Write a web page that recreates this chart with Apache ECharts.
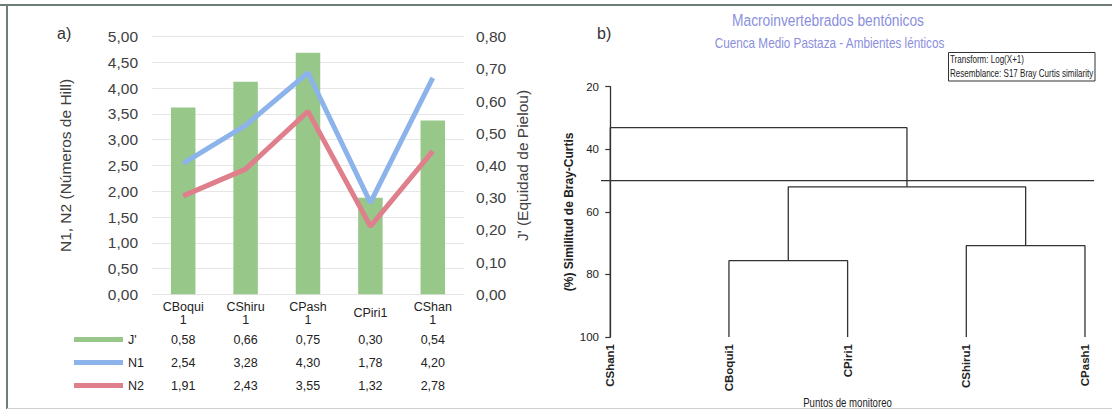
<!DOCTYPE html>
<html>
<head>
<meta charset="utf-8">
<script src="https://cdn.jsdelivr.net/npm/echarts@6/dist/echarts.min.js"></script>
<style>
html,body{margin:0;padding:0;background:#fff;}
#c{width:1112px;height:411px;}
</style>
</head>
<body>
<div id="c"></div>
<script>
// ---- Panel a) data ----
const categories = ['CBoqui1', 'CShiru1', 'CPash1', 'CPiri1', 'CShan1'];
const categoryLabels = ['CBoqui\n1', 'CShiru\n1', 'CPash\n1', 'CPiri1', 'CShan\n1'];
const jPielou = [0.58, 0.66, 0.75, 0.30, 0.54];
const n1Hill = [2.54, 3.28, 4.30, 1.78, 4.20];
const n2Hill = [1.91, 2.43, 3.55, 1.32, 2.78];

// ---- Panel b) data (dendrogram) ----
const leaves = ['CShan1', 'CBoqui1', 'CPiri1', 'CShiru1', 'CPash1'];
// node ids: 0..4 leaves, 5.. merged clusters in order
const mergeLeft = [1, 3, 5, 0];
const mergeRight = [2, 4, 6, 7];
const mergeSimilarity = [75.6, 70.8, 52.0, 33.1];
const cutLevel = 50;
const simTicks = [20, 40, 60, 80, 100];

const FONT = '"Liberation Sans", Arial, sans-serif';
const fmt = v => Number(v).toFixed(2).replace('.', ',');

const GREEN = '#98c78a', BLUE = '#8db4ea', RED = '#df7f8c', DARK = '#333', TITLEC = '#8b8fdc';

// build dendrogram segments
const nodeX = leaves.map((_, i) => i);
const nodeY = leaves.map(() => 100);
const dendroSeries = [];
mergeSimilarity.forEach((h, k) => {
  const l = mergeLeft[k], r = mergeRight[k];
  dendroSeries.push({
    type: 'line', xAxisIndex: 4, yAxisIndex: 2, showSymbol: false, silent: true,
    lineStyle: { color: DARK, width: 1.3 }, clip: false, z: 3,
    data: [[nodeX[l], nodeY[l]], [nodeX[l], h], [nodeX[r], h], [nodeX[r], nodeY[r]]]
  });
  nodeX.push((nodeX[l] + nodeX[r]) / 2);
  nodeY.push(h);
});
const xMinD = -0.078, xMaxD = 4.076;
dendroSeries.push({
  type: 'line', xAxisIndex: 4, yAxisIndex: 2, showSymbol: false, silent: true,
  lineStyle: { color: DARK, width: 1.3 }, clip: false, z: 3,
  data: [[xMinD, cutLevel], [xMaxD, cutLevel]]
});

function tableAxis(values, offset) {
  return {
    type: 'category', gridIndex: 0, position: 'bottom', offset: offset,
    data: values.map(fmt),
    axisLine: { show: false }, axisTick: { show: false }, splitLine: { show: false },
    axisLabel: { interval: 0, margin: 0, verticalAlign: 'middle', fontSize: 12.5, color: '#222', fontFamily: FONT }
  };
}

function narrowText(text, x, y, size, color, sx, align) {
  return {
    type: 'text', x: x, y: y, scaleX: sx, silent: true, z: 10,
    style: { text: text, fill: color, font: 'normal ' + size + 'px ' + FONT, align: align, verticalAlign: 'middle' }
  };
}

const chart = echarts.init(document.getElementById('c'), null, { renderer: 'svg' });
chart.setOption({
  animation: false,
  backgroundColor: '#fff',
  title: [
    { text: 'a)', left: 57, top: 25, padding: 0, textStyle: { fontSize: 16, fontWeight: 'normal', color: '#333', fontFamily: FONT } },
    { text: 'b)', left: 597, top: 25, padding: 0, textStyle: { fontSize: 16, fontWeight: 'normal', color: '#333', fontFamily: FONT } }
  ],
  legend: {
    orient: 'vertical', left: 74, top: 333, padding: 0, itemWidth: 49, itemHeight: 5, itemGap: 10,
    selectedMode: false, icon: 'rect',
    data: ["J'", 'N1', 'N2'],
    textStyle: { fontSize: 12.5, color: '#222', fontFamily: FONT }
  },
  grid: [
    { left: 152, top: 36.7, width: 312, height: 257.6 },
    { left: 601, top: 86.7, width: 493, height: 250.3 }
  ],
  xAxis: [
    {
      type: 'category', gridIndex: 0, data: categoryLabels,
      axisLine: { show: false }, axisTick: { show: false },
      axisLabel: { interval: 0, margin: 19, verticalAlign: 'middle', lineHeight: 13.5, fontSize: 12.5, color: '#222', fontFamily: FONT }
    },
    tableAxis(jPielou, 45.5),
    tableAxis(n1Hill, 69),
    tableAxis(n2Hill, 91.2),
    {
      type: 'value', gridIndex: 1, min: xMinD, max: xMaxD,
      axisLine: { show: false }, axisTick: { show: false }, splitLine: { show: false },
      axisLabel: {
        customValues: [0, 1, 2, 3, 4], formatter: v => leaves[Math.round(v)] || '',
        rotate: 90, margin: 7, fontSize: 11.5, fontWeight: 'bold', color: '#222', fontFamily: FONT
      }
    }
  ],
  yAxis: [
    {
      type: 'value', gridIndex: 0, position: 'left', min: 0, max: 5, interval: 0.5,
      name: 'N1, N2 (Números de Hill)', nameLocation: 'middle', nameGap: 79, nameRotate: 90,
      nameTextStyle: { fontSize: 15.5, color: '#404040', fontFamily: FONT },
      axisLine: { show: false }, axisTick: { show: false },
      splitLine: { show: true, lineStyle: { color: '#e6e6e6', width: 1 } },
      axisLabel: { margin: 14, fontSize: 15.5, color: '#404040', fontFamily: FONT, formatter: fmt }
    },
    {
      type: 'value', gridIndex: 0, position: 'right', min: 0, max: 0.8, interval: 0.1,
      name: "J' (Equidad de Pielou)", nameLocation: 'middle', nameGap: 50, nameRotate: 90,
      nameTextStyle: { fontSize: 15.5, color: '#404040', fontFamily: FONT },
      axisLine: { show: false }, axisTick: { show: false }, splitLine: { show: false },
      axisLabel: { margin: 12, fontSize: 15.5, color: '#404040', fontFamily: FONT, formatter: fmt }
    },
    {
      type: 'value', gridIndex: 1, inverse: true, min: simTicks[0], max: simTicks[simTicks.length - 1], interval: 20,
      name: '(%) Similitud de Bray-Curtis', nameLocation: 'middle', nameGap: 26, nameRotate: 90,
      nameTextStyle: { fontSize: 12, fontWeight: 'bold', color: '#222', fontFamily: FONT },
      axisLine: { show: true, lineStyle: { color: DARK, width: 1.3 } },
      axisTick: { show: true, length: 5, lineStyle: { color: DARK, width: 1.2 } },
      splitLine: { show: false },
      axisLabel: { margin: 2, fontSize: 11.5, color: '#222', fontFamily: FONT }
    }
  ],
  series: [
    {
      name: "J'", type: 'bar', xAxisIndex: 0, yAxisIndex: 1, data: jPielou,
      barWidth: 24.5, itemStyle: { color: GREEN }, silent: true, z: 1
    },
    {
      name: 'N1', type: 'line', xAxisIndex: 0, yAxisIndex: 0, data: n1Hill,
      showSymbol: false, itemStyle: { color: BLUE }, lineStyle: { color: BLUE, width: 5 }, silent: true, z: 2
    },
    {
      name: 'N2', type: 'line', xAxisIndex: 0, yAxisIndex: 0, data: n2Hill,
      showSymbol: false, itemStyle: { color: RED }, lineStyle: { color: RED, width: 5 }, silent: true, z: 2
    }
  ].concat(dendroSeries),
  graphic: [
    { type: 'line', shape: { x1: 0, y1: 5, x2: 1112, y2: 5 }, style: { stroke: '#6f7d76', lineWidth: 2 }, silent: true },
    { type: 'line', shape: { x1: 7, y1: 4, x2: 7, y2: 409 }, style: { stroke: '#6f7d76', lineWidth: 2 }, silent: true },
    { type: 'line', shape: { x1: 7, y1: 408.5, x2: 1112, y2: 408.5 }, style: { stroke: '#d0d0d0', lineWidth: 1 }, silent: true },
    narrowText('Macroinvertebrados bentónicos', 828, 20, 17, TITLEC, 0.81, 'center'),
    narrowText('Cuenca Medio Pastaza - Ambientes lénticos', 829.5, 43.5, 14, TITLEC, 0.84, 'center'),
    { type: 'rect', shape: { x: 948.5, y: 52.5, width: 146.5, height: 28.5 }, style: { fill: 'none', stroke: '#333', lineWidth: 1 }, silent: true, z: 10 },
    narrowText('Transform: Log(X+1)', 950, 59.5, 11, '#222', 0.73, 'left'),
    narrowText('Resemblance: S17 Bray Curtis similarity', 950, 73.5, 11, '#222', 0.73, 'left'),
    narrowText('Puntos de monitoreo', 847.5, 402, 13, '#222', 0.74, 'center')
  ]
});
</script>
</body>
</html>
